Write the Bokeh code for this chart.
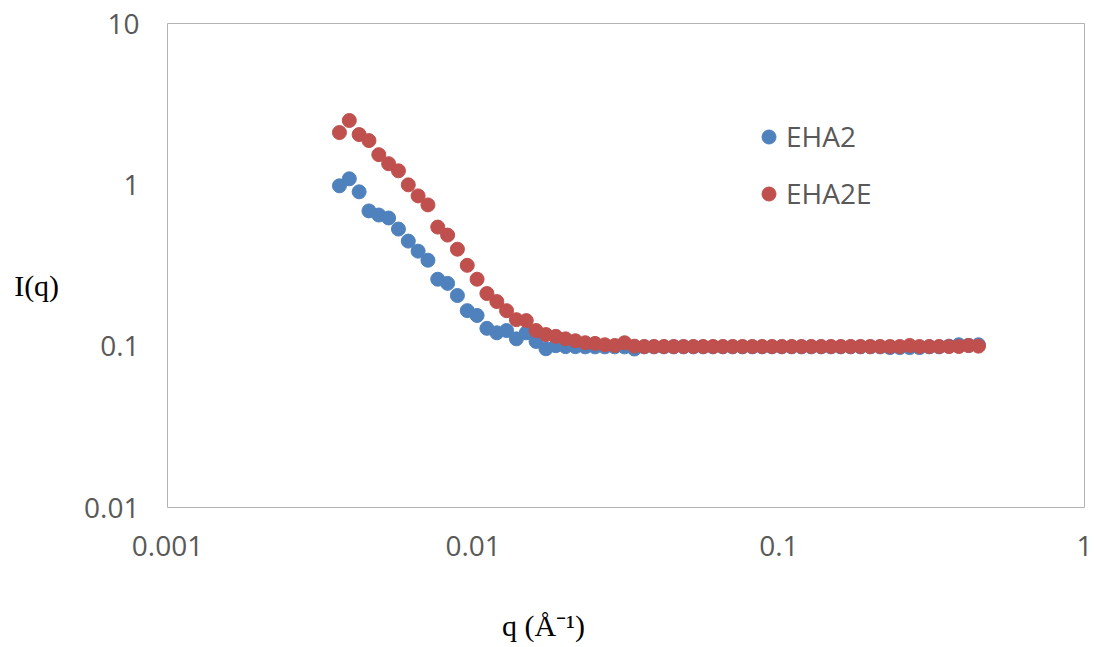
from bokeh.plotting import figure
from bokeh.models import Range1d, FixedTicker, Legend, LegendItem
from bokeh.embed import file_html
from bokeh.resources import INLINE

# q values (Å^-1), shared by both series
q = [0.003652, 0.003934, 0.004236, 0.004561, 0.004912, 0.005290, 0.005696, 0.006134,
     0.006605, 0.007112, 0.007659, 0.008248, 0.008881, 0.009565, 0.01030, 0.01109,
     0.01195, 0.01286, 0.01385, 0.01492, 0.01606, 0.01730, 0.01863, 0.02006,
     0.02160, 0.02326, 0.02505, 0.02697, 0.02905, 0.03128, 0.03369, 0.03628,
     0.03906, 0.04207, 0.04529, 0.04878, 0.05253, 0.05656, 0.06091, 0.06559,
     0.07063, 0.07606, 0.08190, 0.08820, 0.09497, 0.1023, 0.1102, 0.1186,
     0.1277, 0.1376, 0.1481, 0.1595, 0.1718, 0.1850, 0.1992, 0.2145,
     0.2310, 0.2487, 0.2679, 0.2884, 0.3106, 0.3345, 0.3602, 0.3879,
     0.4176, 0.4498]

eha2 = [0.986, 1.090, 0.905, 0.689, 0.650, 0.623, 0.532, 0.448,
        0.388, 0.341, 0.260, 0.245, 0.206, 0.166, 0.155, 0.129,
        0.121, 0.125, 0.111, 0.121, 0.107, 0.0964, 0.1007, 0.0993,
        0.0993, 0.099, 0.099, 0.099, 0.099, 0.099, 0.096, 0.099,
        0.099, 0.099, 0.099, 0.099, 0.099, 0.099, 0.099, 0.099,
        0.099, 0.099, 0.099, 0.099, 0.099, 0.099, 0.099, 0.099,
        0.099, 0.099, 0.099, 0.099, 0.099, 0.099, 0.099, 0.099,
        0.098, 0.098, 0.098, 0.098, 0.099, 0.099, 0.100, 0.102,
        0.101, 0.102]

eha2e = [2.109, 2.505, 2.049, 1.880, 1.538, 1.352, 1.222, 1.000,
         0.854, 0.751, 0.547, 0.488, 0.399, 0.317, 0.260, 0.212,
         0.189, 0.166, 0.146, 0.144, 0.125, 0.118, 0.115, 0.111,
         0.108, 0.105, 0.104, 0.102, 0.101, 0.105, 0.100, 0.0995,
         0.0995, 0.0995, 0.0995, 0.0995, 0.0995, 0.0995, 0.0995, 0.0995,
         0.0995, 0.0995, 0.0995, 0.0995, 0.0995, 0.0995, 0.0995, 0.0995,
         0.0995, 0.0995, 0.0995, 0.0995, 0.0995, 0.0995, 0.0995, 0.0995,
         0.0995, 0.0995, 0.101, 0.0995, 0.0995, 0.0995, 0.0995, 0.0995,
         0.101, 0.100]

x_ticks = [0.001, 0.01, 0.1, 1]
x_tick_labels = ["0.001", "0.01", "0.1", "1"]
y_ticks = [0.01, 0.1, 1, 10]
y_tick_labels = ["0.01", "0.1", "1", "10"]

BLUE = "#4F81BD"
RED = "#C0504D"
TICK_FONT = "Open Sans"
TICK_COLOR = "#595959"
SERIF = "Liberation Serif"
NBSP = "\u00a0"

p = figure(width=1094, height=647, x_axis_type="log", y_axis_type="log",
           x_range=Range1d(0.001, 1), y_range=Range1d(0.01, 10),
           output_backend="svg", toolbar_location=None,
           min_border_left=167, min_border_right=10,
           min_border_top=23, min_border_bottom=140)

p.background_fill_color = "white"
p.border_fill_color = "white"
p.outline_line_color = "#B3B3B3"
p.outline_line_width = 1
p.xgrid.visible = False
p.ygrid.visible = False

for ax, ticks, labels, standoff in ((p.xaxis[0], x_ticks, x_tick_labels, 28),
                                    (p.yaxis[0], y_ticks, y_tick_labels, 28)):
    ax.ticker = FixedTicker(ticks=ticks, minor_ticks=[])
    ax.major_label_overrides = dict(zip(ticks, labels))
    ax.axis_line_color = None
    ax.major_tick_line_color = None
    ax.minor_tick_line_color = None
    ax.major_tick_out = 0
    ax.major_tick_in = 0
    ax.major_label_text_font = TICK_FONT
    ax.major_label_text_font_size = "28px"
    ax.major_label_text_color = TICK_COLOR
    ax.major_label_standoff = standoff
    ax.axis_label_text_font = SERIF
    ax.axis_label_text_font_size = "30px"
    ax.axis_label_text_font_style = "normal"
    ax.axis_label_text_color = "black"

p.xaxis[0].axis_label = "q (Å⁻¹)" + NBSP * 22
p.xaxis[0].axis_label_standoff = 50
p.yaxis[0].axis_label = "\nI(q)"
p.yaxis[0].axis_label_orientation = "horizontal"
p.yaxis[0].axis_label_standoff = 22

r1 = p.scatter(q, eha2, size=14, fill_color=BLUE, line_color=BLUE)
r2 = p.scatter(q, eha2e, size=14, fill_color=RED, line_color=RED)

legend = Legend(items=[LegendItem(label="EHA2", renderers=[r1]),
                       LegendItem(label="EHA2E", renderers=[r2])],
                location=(584, 295), orientation="vertical",
                glyph_width=35, glyph_height=35, label_height=35,
                spacing=19, padding=0, margin=0, label_standoff=0,
                border_line_color=None, background_fill_alpha=0,
                label_text_font=TICK_FONT, label_text_font_size="28px",
                label_text_color=TICK_COLOR)
p.add_layout(legend)

open("out.html", "w").write(file_html(p, INLINE))
